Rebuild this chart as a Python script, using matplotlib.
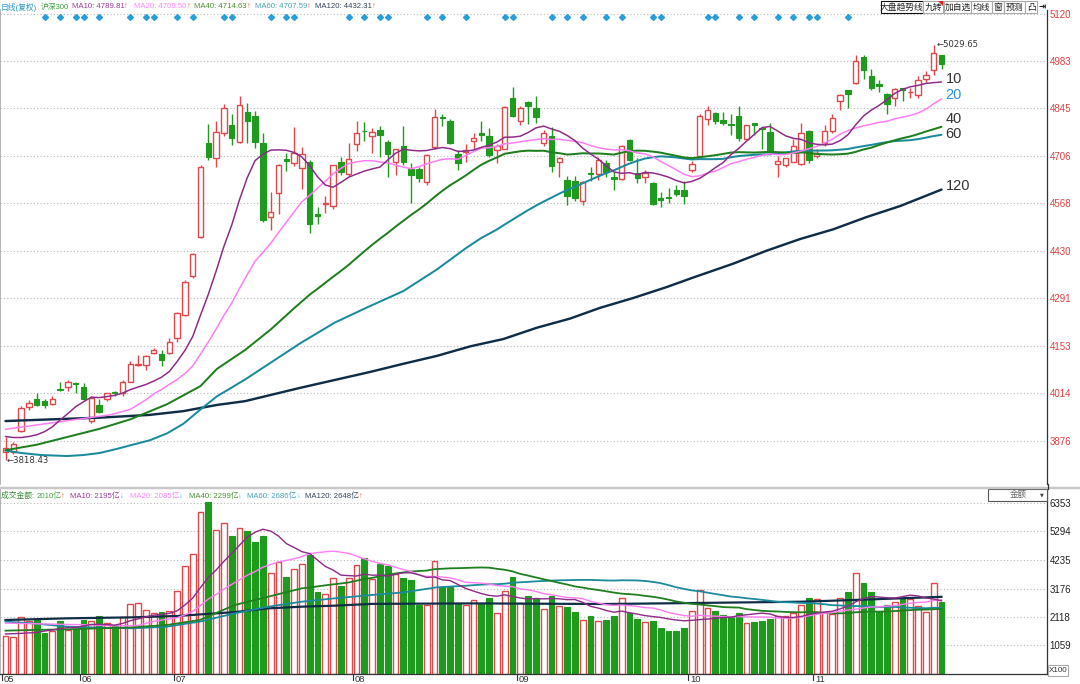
import numpy as np
import pandas as pd
import matplotlib
matplotlib.use('Agg')
import matplotlib.pyplot as plt
from matplotlib.patches import Rectangle, Polygon
from matplotlib.transforms import blended_transform_factory as blend

plt.rcParams['font.family'] = ['Liberation Sans', 'Noto Sans CJK SC', 'DejaVu Sans']

# ---------------- data ----------------
opens = [3843,3842,3905,3974,3998,3992,3984,4026,4031,4044,
         4031,3934,3981,3997,4017,4014,4048,4097,4097,4131,
         4128,4131,4174,4243,4356,4469,4744,4699,4774,4797,
         4748,4835,4822,4743,4527,4599,4697,4686,4670,4689,
         4537,4566,4560,4689,4653,4740,4779,4764,4782,4746,
         4687,4734,4668,4668,4630,4731,4819,4809,4711,4718,
         4750,4773,4765,4723,4727,4874,4808,4863,4845,4744,
         4763,4688,4637,4633,4576,4655,4653,4685,4644,4638,
         4752,4656,4644,4627,4584,4585,4608,4608,4666,4705,
         4815,4830,4812,4798,4824,4755,4801,4786,4776,4683,
         4680,4689,4683,4778,4707,4743,4779,4866,4897,4919,
         4995,4939,4917,4887,4875,4903,4892,4884,4931,4957,
         4999]
highs = [3886,3871,3977,3993,4016,3996,4005,4048,4054,4048,
         4043,4005,3997,4016,4022,4054,4108,4125,4126,4146,
         4140,4174,4252,4343,4424,4681,4799,4807,4857,4828,
         4882,4860,4838,4772,4602,4684,4716,4790,4731,4694,
         4558,4589,4680,4704,4743,4808,4806,4789,4794,4754,
         4727,4794,4685,4673,4713,4842,4828,4813,4723,4742,
         4773,4807,4788,4742,4853,4906,4851,4865,4880,4782,
         4791,4704,4648,4648,4633,4673,4702,4693,4660,4737,
         4755,4701,4666,4630,4600,4612,4620,4632,4692,4827,
         4851,4833,4833,4827,4851,4797,4801,4791,4803,4707,
         4701,4755,4803,4782,4725,4795,4827,4887,4899,4999,
         4999,4959,4929,4890,4905,4905,4905,4939,4953,5029.65,
         5001]
lows = [3818.43,3836,3901,3965,3977,3970,3979,4020,4020,4014,
        3993,3928,3956,3991,4005,4005,4046,4094,4083,4128,
        4094,4128,4165,4240,4351,4467,4693,4673,4765,4739,
        4744,4745,4728,4514,4490,4537,4663,4677,4609,4480,
        4508,4539,4550,4650,4648,4721,4750,4714,4702,4645,
        4650,4679,4570,4631,4622,4725,4794,4742,4665,4688,
        4725,4750,4704,4685,4725,4819,4796,4799,4803,4734,
        4660,4645,4562,4574,4564,4633,4636,4645,4606,4636,
        4692,4627,4627,4562,4558,4570,4588,4567,4660,4704,
        4797,4800,4797,4767,4749,4752,4767,4725,4713,4644,
        4675,4687,4680,4686,4699,4735,4773,4839,4845,4917,
        4931,4899,4893,4827,4851,4867,4875,4875,4923,4941,
        4959]
closes = [3855,3865,3971,3985,3981,3981,3998,4025,4048,4041,
          3997,4000,3959,4014,4016,4046,4100,4100,4123,4140,
          4111,4165,4249,4338,4421,4673,4704,4777,4845,4759,
          4855,4809,4746,4519,4544,4680,4692,4714,4712,4508,
          4531,4568,4680,4660,4696,4772,4778,4777,4767,4713,
          4727,4687,4650,4641,4708,4819,4818,4744,4685,4722,
          4759,4767,4710,4734,4849,4822,4845,4851,4820,4774,
          4676,4699,4590,4582,4630,4654,4693,4658,4638,4735,
          4694,4642,4656,4565,4577,4584,4596,4588,4682,4824,
          4839,4809,4802,4797,4758,4795,4795,4785,4717,4692,
          4699,4734,4773,4695,4715,4779,4818,4885,4887,4983,
          4957,4905,4911,4857,4901,4897,4894,4927,4943,5007,
          4975]
volumes = [1428,1384,2127,1982,2011,1515,1588,1952,1617,1661,
           2011,1952,2156,1880,1836,2127,2593,2637,2389,2273,
           2302,2346,3074,4021,4458,6017,6382,5362,5624,5143,
           5435,5312,4916,5139,3764,4173,3591,3901,4074,4421,
           3035,2960,3554,3269,3554,4037,4297,3511,4094,4021,
           3730,3555,3497,2564,2564,4211,3220,3249,2637,2564,
           2739,2637,2812,2273,3074,3613,2637,2885,2812,2419,
           2885,2535,2491,2317,2011,2156,1982,2011,2154,2837,
           2260,2033,1927,1957,1699,1593,1593,1699,2336,3110,
           2458,2336,2184,2109,2275,1896,1927,1972,2048,2154,
           2154,2275,2564,2837,2791,2306,2230,2837,3064,3747,
           3368,3064,2336,2564,2685,2837,2791,2533,2306,3368,
           2685]

month_labels = ['05', '06', '07', '08', '09', '10', '11']
month_pos = [0, 10, 22, 45, 66, 88, 104]

signal_idx = [5, 7, 9, 10, 12, 16, 18, 19, 22, 24, 28, 29, 34, 36, 37, 44, 46, 48, 49,
              54, 56, 59, 64, 65, 70, 72, 74, 77, 79, 83, 84, 90, 91, 94, 96, 99, 101,
              103, 104, 108]

price_ticks = [5120, 4983, 4845, 4706, 4568, 4430, 4291, 4153, 4014, 3876]
vol_ticks = [6353, 5294, 4235, 3176, 2118, 1059]

ma10_lead_x = [0, 1, 2, 3, 4, 5, 6, 7, 8]
ma10_lead_y = [3888, 3885, 3885, 3888, 3893, 3902, 3916, 3936, 3955]
ma20_lead_x = [0, 1.9, 5.7, 9.5, 13.4, 16, 18]
ma20_lead_y = [3909, 3915, 3927, 3939, 3951, 3967, 3995]
ma40_lead_x = [0, 4, 8, 12, 16, 20.7, 25, 27.1, 30.7, 34, 37]
ma40_lead_y = [3848, 3864, 3887, 3910, 3938, 3982, 4035, 4085, 4140, 4200, 4262]
ma60_lead_x = [0, 2, 4.5, 7.9, 10, 12.1, 14.3, 16.3, 18.5, 20.7, 22.8, 24.9, 27.1, 30.7,
               37.8, 42.2, 46.7, 51, 55.3, 58]
ma60_lead_y = [3847, 3840, 3834, 3831, 3834, 3840, 3852, 3864, 3877, 3897, 3925, 3965, 4005,
               4054, 4160, 4220, 4268, 4312, 4375, 4420]
ma120_x = [0, 3.5, 12.1, 18.5, 22.8, 27.1, 30.7, 37.8, 46.7, 51, 55.3, 59.6, 63.8, 68.1,
           72.4, 76.2, 80.5, 84.8, 88.1, 93.3, 97.6, 101.9, 106.1, 110.4, 114.7, 120]
ma120_y = [3933, 3936, 3943, 3951, 3962, 3980, 3991, 4030, 4076, 4100, 4123, 4151, 4172, 4205,
           4232, 4263, 4292, 4324, 4351, 4392, 4430, 4464, 4492, 4528, 4560, 4608]

vma10_lead_x = [0, 2, 4, 6, 8]
vma10_lead_y = [1486, 1510, 1545, 1640, 1725]
vma20_lead_x = [0, 5, 10, 14, 17, 18]
vma20_lead_y = [1890, 1860, 1830, 1790, 1800, 1880]
vma40_lead_x = [0, 3.5, 7.9, 12.1, 16.3, 20.7, 24.9, 29.4, 33.7, 38]
vma40_lead_y = [1610, 1635, 1660, 1697, 1734, 1821, 2006, 2563, 2873, 3183]
vma60_lead_x = [0, 3.5, 7.9, 12.1, 16.3, 20.7, 24.9, 29.4, 33.7, 38, 42.2, 46.7, 51, 55.3]
vma60_lead_y = [1945, 1883, 1759, 1722, 1697, 1759, 1945, 2254, 2501, 2687, 2811, 2929, 3031, 3220]
vma120_x = [0, 7.9, 16.3, 22, 29.4, 33.7, 38, 42.2, 47, 60, 77, 89, 102, 110, 120]
vma120_y = [2006, 2068, 2105, 2155, 2300, 2439, 2501, 2539, 2605, 2623, 2600, 2640, 2685, 2761, 2867]

# ---------------- figure ----------------
W, H = 1080, 684
def pt(px):
    return px * 0.72

RED = '#e0484c'
GREEN = '#1e9a1e'
C10, C20, C40, C60, C120 = '#8e2a88', '#ff7cf4', '#1f7f1f', '#1a8a9c', '#0f2d46'

fig = plt.figure(figsize=(10.8, 6.84), dpi=100)
fig.patch.set_facecolor('white')

def rect_px(x0, y0, x1, y1):
    return [x0 / W, 1 - y1 / H, (x1 - x0) / W, (y1 - y0) / H]

XR = 1047
ax = fig.add_axes(rect_px(0, 10, XR, 484))
axv = fig.add_axes(rect_px(0, 489, XR, 674))

o = np.array(opens, float); h = np.array(highs, float)
l = np.array(lows, float); c = np.array(closes, float)
v = np.array(volumes, float)
n = len(c)
idx = np.arange(n)

x_lo, x_hi = -5.5 / 7.8, (XR - 5.5) / 7.8
PPX = 2.916
for a in (ax, axv):
    a.set_xlim(x_lo, x_hi)
    a.set_xticks([])
ax.set_ylim(5120 - (484 - 14) * PPX, 5120 + 4 * PPX)
axv.set_ylim(0, 185 * 37.15)

# grid
for t in price_ticks:
    ax.axhline(t, color='#b8b8b8', lw=0.8, ls=(0, (1, 2)), zorder=0)
for t in vol_ticks:
    axv.axhline(t, color='#b8b8b8', lw=0.8, ls=(0, (1, 2)), zorder=0)

# candles
up = c >= o
wick_cols = [RED if u else GREEN for u in up]
ax.vlines(idx, l, h, colors=wick_cols, lw=1, zorder=2)
bottoms = np.minimum(o, c)
heights = np.maximum(np.abs(c - o), 1.2)
BW = 0.68
ax.bar(idx[up], heights[up], bottom=bottoms[up], width=BW, facecolor='white',
       edgecolor=RED, linewidth=1, zorder=3)
ax.bar(idx[~up], heights[~up], bottom=bottoms[~up], width=BW, facecolor=GREEN,
       edgecolor=GREEN, linewidth=0.8, zorder=3)

# volume bars
axv.bar(idx[up], v[up], width=0.72, facecolor='white', edgecolor=RED, linewidth=1, zorder=2)
axv.bar(idx[~up], v[~up], width=0.72, facecolor=GREEN, edgecolor=GREEN, linewidth=0.8, zorder=2)

# moving averages
def combine(lead_x, lead_y, series, win):
    roll = pd.Series(series).rolling(win).mean().to_numpy()
    xs = np.concatenate([np.array(lead_x, float), idx[win - 1:].astype(float)])
    ys = np.concatenate([np.array(lead_y, float), roll[win - 1:]])
    return xs, ys

main_lines = [
    (ma120_x, ma120_y, C120, 2.4),
    (*combine(ma60_lead_x, ma60_lead_y, c, 60), C60, 2.0),
    (*combine(ma40_lead_x, ma40_lead_y, c, 40), C40, 2.0),
    (*combine(ma20_lead_x, ma20_lead_y, c, 20), C20, 1.5),
    (*combine(ma10_lead_x, ma10_lead_y, c, 10), C10, 1.5),
]
for xs, ys, col, lw in main_lines:
    ax.plot(xs, ys, color=col, lw=pt(lw), zorder=4, solid_capstyle='round')

vol_lines = [
    (vma120_x, vma120_y, C120, 2.2),
    (*combine(vma60_lead_x, vma60_lead_y, v, 60), C60, 1.8),
    (*combine(vma40_lead_x, vma40_lead_y, v, 40), C40, 1.8),
    (*combine(vma20_lead_x, vma20_lead_y, v, 20), C20, 1.4),
    (*combine(vma10_lead_x, vma10_lead_y, v, 10), C10, 1.4),
]
for xs, ys, col, lw in vol_lines:
    axv.plot(xs, ys, color=col, lw=pt(lw), zorder=4)

# line-end labels
end_vals = [main_lines[4][1][-1], main_lines[3][1][-1], main_lines[2][1][-1],
            main_lines[1][1][-1], main_lines[0][1][-1]]
end_names = ['10', '20', '40', '60', '120']
end_cols = ['#333333', '#2b8fe8', '#333333', '#333333', '#333333']
end_off = [9, 12, 22, 3, 10]
for val, name, col, off in zip(end_vals, end_names, end_cols, end_off):
    ax.text(n - 0.5, val + off, name, color=col, fontsize=pt(14.5), ha='left', va='center', zorder=6)

# extreme annotations
imin = int(np.argmin(l)); imax = int(np.argmax(h))
ax.text(imin + 0.1, l[imin], '\u2190' + f'{l[imin]:.2f}', fontsize=pt(8.5), color='#333333',
        ha='left', va='center', zorder=6, family=['DejaVu Sans'])
ax.text(imax + 0.35, h[imax], '\u2190' + f'{h[imax]:.2f}', fontsize=pt(8.5), color='#333333',
        ha='left', va='center', zorder=6, family=['DejaVu Sans'])

# signal diamonds
trs = blend(ax.transData, ax.transAxes)
ax.plot(signal_idx, [1 - 7 / 474] * len(signal_idx), transform=trs, ls='none', marker='D',
        ms=3.0, color='#2a9ed8', clip_on=False, zorder=6)

# axes styling
ax.yaxis.tick_right()
ax.set_yticks(price_ticks)
ax.set_yticklabels([str(t) for t in price_ticks])
ax.tick_params(axis='y', length=0, pad=2, labelsize=pt(9.8), labelcolor='#e04040')
axv.yaxis.tick_right()
axv.set_yticks(vol_ticks)
axv.set_yticklabels([str(t) for t in vol_ticks])
axv.tick_params(axis='y', length=0, pad=2, labelsize=pt(9.8), labelcolor='#222222')
for a in (ax, axv):
    a.spines['top'].set_visible(False)
    a.spines['left'].set_color('#a8a8a8')
    a.spines['left'].set_linewidth(1.2)
    a.spines['right'].set_color('#333333')
    a.spines['right'].set_linewidth(0.9)
ax.spines['bottom'].set_visible(False)
axv.spines['bottom'].set_color('#333333')
axv.spines['bottom'].set_linewidth(0.9)

# month labels
trm = blend(axv.transData, axv.transAxes)
for lab, pos in zip(month_labels, month_pos):
    axv.plot([pos - 0.45, pos - 0.45], [0, -0.03], transform=trm, color='#333333', lw=0.8, clip_on=False)
    axv.text(pos - 0.2, -0.032, lab, transform=trm, ha='left', va='center', fontsize=pt(9.5),
             color='#333333', clip_on=False)

# ---------------- overlay decorations in pixel coordinates ----------------
ov = fig.add_axes([0, 0, 1, 1], zorder=10)
ov.set_xlim(0, W)
ov.set_ylim(H, 0)
ov.axis('off')

ov.plot([0, W], [487.5, 487.5], color='#c8c8c8', lw=pt(2.5))
ov.plot([XR + 0.5, XR + 0.5], [484, 489], color='#333333', lw=0.9)

renderer = fig.canvas.get_renderer()
def chain(pieces, x0, y, size):
    x = x0
    for txt, col, gap in pieces:
        t = ov.text(x, y, txt, color=col, fontsize=pt(size), ha='left', va='center')
        bb = t.get_window_extent(renderer=renderer)
        x += bb.width + gap

UPC, DNC = '#ff4a2a', '#33c8e0'
main_header = [("日线(复权)", '#2b95c0', 3), ("沪深300", '#3c9e3c', 3),
               ("MA10: 4789.81", '#9b3b96', 0), ("\u2191", UPC, 6),
               ("MA20: 4709.50", '#ff86ff', 0), ("\u2191", UPC, 4),
               ("MA40: 4714.63", '#4a8f3a', 0), ("\u2191", UPC, 4),
               ("MA60: 4707.59", '#49a3b5', 0), ("\u2191", UPC, 4),
               ("MA120: 4432.31", '#33445a', 0), ("\u2191", UPC, 0)]
chain(main_header, 1, 7, 7.8)

vol_header = [("成交金额: ", '#3a8a3a', 0), ("2010亿", '#4aa04a', 0), ("\u2191", UPC, 5),
              ("MA10: 2195亿", '#9b3b96', 0), ("\u2193", DNC, 6),
              ("MA20: 2085亿", '#ff86ff', 0), ("\u2193", DNC, 6),
              ("MA40: 2299亿", '#4a8f3a', 0), ("\u2193", DNC, 5),
              ("MA60: 2686亿", '#49a3b5', 0), ("\u2193", DNC, 5),
              ("MA120: 2648亿", '#33445a', 0), ("\u2191", UPC, 0)]
chain(vol_header, 1, 496, 7.8)

# top-right buttons
buttons = [("大盘趋势线", 881, 923, '#111111'), ("九转", 923, 943, '#aaaaaa'),
           ("加自选", 944, 971, '#aaaaaa'), ("均线", 971, 992, '#aaaaaa'),
           ("窗", 992, 1004, '#aaaaaa'), ("预测", 1004, 1025, '#aaaaaa'),
           ("凸", 1025, 1037, '#aaaaaa'), ("\u21e5", 1037, 1047, None)]
for txt, x0, x1, ec in buttons:
    if ec is not None:
        ov.add_patch(Rectangle((x0, 1), x1 - x0, 12, facecolor='white', edgecolor=ec, lw=0.8))
    fam = ['DejaVu Sans'] if txt == '\u21e5' else None
    kw = dict(family=fam) if fam else {}
    ov.text((x0 + x1) / 2, 7.2, txt, fontsize=pt(8.8), ha='center', va='center',
            color='#222222', fontweight='bold' if fam else 'normal', **kw)
ov.add_patch(Polygon([(938, 1), (943, 1), (943, 6)], closed=True, facecolor='#e02020', edgecolor='none'))

# 金额 dropdown
ov.add_patch(Rectangle((988, 489), XR - 988, 12, facecolor='white', edgecolor='#555555', lw=0.8))
ov.text(1018, 495, "金额", fontsize=pt(8.5), ha='center', va='center', color='#666666')
ov.text(1042, 494.5, "\u25bc", fontsize=pt(5), ha='center', va='center', color='#444444',
        family=['DejaVu Sans'])

# X100 box
ov.add_patch(Rectangle((1048, 665), 20, 11, facecolor='white', edgecolor='#aaaaaa', lw=0.8))
ov.text(1058, 670.5, "X100", fontsize=pt(8), ha='center', va='center', color='#333333')

fig.savefig('out.png', dpi=100)
